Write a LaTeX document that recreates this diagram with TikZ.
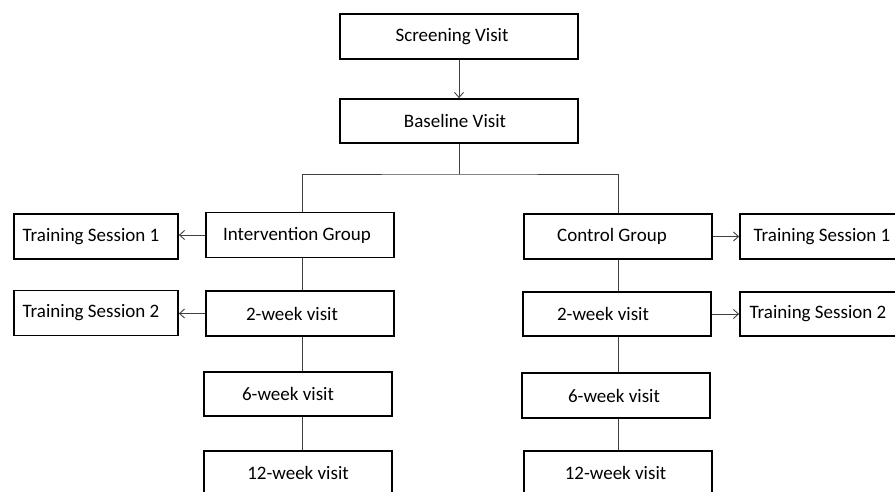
\documentclass[tikz,border=0pt]{standalone}
\usepackage{fontspec}
\setmainfont{Carlito}
\usetikzlibrary{arrows.meta}
\newcommand{\tshift}[1]{\kern#1pt}
\begin{document}
\begin{tikzpicture}[x=1pt,y=-1pt,
  box/.style={draw=black, line width=1.8pt, inner sep=0pt, minimum width=188pt, minimum height=45pt, font=\fontsize{19}{21}\selectfont},
  tsbox/.style={box, minimum width=164pt},
  conn/.style={draw=black!75, line width=0.9pt},
  arr/.style={conn, -{Straight Barb[length=5pt,width=9pt,line width=0.9pt]}}]
\useasboundingbox (0,0) rectangle (895,491);
\clip (0,0) rectangle (895,491);
\node[box, minimum width=238pt] (scr) at (459,36.5) {Screening Visit\tshift{14}};
\node[box, minimum width=238pt, minimum height=44pt] (base) at (459,121) {Baseline Visit\tshift{8}};
\node[box] (int) at (300,235) {Intervention Group\tshift{6}};
\node[tsbox] (ts1L) at (96,236.5) {Training Session 1\tshift{10}};
\node[box] (int2) at (300,313.5) {2-week visit\tshift{16}};
\node[tsbox] (ts2L) at (96,313) {Training Session 2\tshift{10}};
\node[box, minimum height=44pt] (int6) at (298,394) {6-week visit\tshift{20}};
\node[box, minimum height=44pt] (int12) at (298,473) {12-week visit};
\node[box] (ctl) at (618,236.5) {Control Group\tshift{12}};
\node[tsbox] (ts1R) at (822,236.5) {Training Session 1};
\node[box, minimum height=44pt] (ctl2) at (617,314) {2-week visit\tshift{28}};
\node[tsbox, minimum height=44pt] (ts2R) at (822,314) {Training Session 2\tshift{8}};
\node[box] (ctl6) at (616,395.5) {6-week visit\tshift{4}};
\node[box, minimum height=44pt] (ctl12) at (618,473) {12-week visit\tshift{5}};
\coordinate (split) at (459,174);
\coordinate (lx) at (302,174);
\coordinate (rx) at (618,174);
\draw[arr] (scr.south) -- (base.north);
\draw[conn] (base.south) -- (split);
\draw[conn] (int.north -| lx) |- (split) -| (ctl.north -| rx);
\draw[conn] (int.south -| lx) -- (int2.north -| lx);
\draw[conn] (int2.south -| lx) -- (int6.north -| lx);
\draw[conn] (int6.south -| lx) -- (int12.north -| lx);
\draw[conn] (ctl.south -| rx) -- (ctl2.north -| rx);
\draw[conn] (ctl2.south -| rx) -- (ctl6.north -| rx);
\draw[conn] (ctl6.south -| rx) -- (ctl12.north -| rx);
\draw[arr] (int.west) -- (int.west -| ts1L.east);
\draw[arr] (int2.west) -- (int2.west -| ts2L.east);
\draw[arr] (ctl.east) -- (ctl.east -| ts1R.west);
\draw[arr] (ctl2.east) -- (ctl2.east -| ts2R.west);
\end{tikzpicture}
\end{document}
